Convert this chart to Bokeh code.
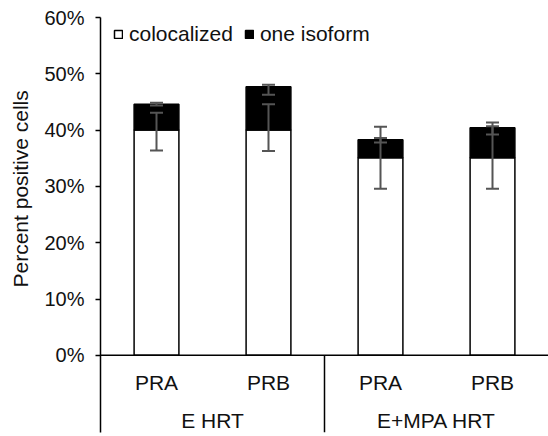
import math
from bokeh.plotting import figure
from bokeh.models import (FactorRange, Range1d, FixedTicker, Span, Whisker, TeeHead,
                          ColumnDataSource, Legend, LegendItem, Title)
from bokeh.core.properties import value
from bokeh.embed import file_html
from bokeh.resources import INLINE

# ---- data ----
groups = ["E HRT", "E HRT", "E+MPA HRT", "E+MPA HRT"]
subcats = ["PRA", "PRB", "PRA", "PRB"]
colocalized = [40.0, 40.0, 35.1, 35.1]
one_isoform = [4.6, 7.7, 3.2, 5.3]
coloc_err_lo = [36.4, 36.3, 29.6, 29.6]
coloc_err_hi = [43.1, 44.6, 40.6, 40.7]
total_err_lo = [44.35, 46.3, 37.8, 39.2]
total_err_hi = [44.85, 48.05, 38.6, 41.35]
y_ticks = [0, 10, 20, 30, 40, 50, 60]
y_tick_labels = ["0%", "10%", "20%", "30%", "40%", "50%", "60%"]
series_names = ["colocalized", "one isoform"]
y_title = "Percent positive cells"

FONT = "Liberation Sans"
Y_BOTTOM = -13.7
FRAME_W, FRAME_H = 448, 415

factors = list(zip(groups, subcats))
x_range = FactorRange(*factors, range_padding=0, group_padding=0, subgroup_padding=0,
                      factor_padding=0)

p = figure(x_range=x_range, y_range=Range1d(Y_BOTTOM, 60),
           frame_width=FRAME_W, frame_height=FRAME_H, output_backend="svg",
           toolbar_location=None, min_border_left=100, min_border_right=0,
           min_border_top=17, min_border_bottom=4)
p.outline_line_color = None
p.grid.visible = False
p.xaxis.visible = False
p.background_fill_color = "white"

src = ColumnDataSource(dict(x=factors, colocalized=colocalized, one_isoform=one_isoform))
rs = p.vbar_stack(["colocalized", "one_isoform"], x="x", width=0.4,
                  source=src, fill_color=["white", "black"], line_color="black",
                  line_width=1.5)

# error bars
esrc = ColumnDataSource(dict(x=factors, clo=coloc_err_lo, chi=coloc_err_hi,
                             tlo=total_err_lo, thi=total_err_hi))
for lo, hi in (("clo", "chi"), ("tlo", "thi")):
    w = Whisker(base="x", lower=lo, upper=hi, source=esrc,
                line_color="#555555", line_width=2, level="overlay",
                upper_head=TeeHead(size=13, line_color="#555555", line_width=2),
                lower_head=TeeHead(size=13, line_color="#555555", line_width=2))
    p.add_layout(w)

# x baseline and group separators below the axis
p.add_layout(Span(location=0, dimension="width", line_color="black", line_width=1.5))
uniq_groups = list(dict.fromkeys(groups))
per_group = len(factors) // len(uniq_groups)
sep_x = [float(per_group * i) for i in range(1, len(uniq_groups))]
p.segment(x0=sep_x, y0=[0] * len(sep_x), x1=sep_x, y1=[Y_BOTTOM] * len(sep_x),
          line_color="black", line_width=1.5)

# category labels
p.text(x=factors, y=[-4.85] * len(factors), text=subcats,
       text_font=value(FONT), text_font_size="21px", text_color="#111111",
       text_align="center", text_baseline="middle")
p.text(x=uniq_groups, y=[-11.6] * len(uniq_groups), text=uniq_groups,
       text_font=value(FONT), text_font_size="21px", text_color="#111111",
       text_align="center", text_baseline="middle")

# y axis
ax = p.yaxis[0]
ax.ticker = FixedTicker(ticks=y_ticks)
ax.major_label_overrides = {t: l for t, l in zip(y_ticks, y_tick_labels)}
ax.major_label_text_font = FONT
ax.major_label_text_font_size = "20px"
ax.major_label_text_color = "#111111"
ax.major_label_standoff = 11
ax.major_tick_out = 5
ax.major_tick_in = 0
ax.minor_tick_line_color = None
ax.axis_line_width = 1.5
ax.major_tick_line_width = 1.5
ax.axis_line_color = "black"

# y title, starting near the bottom of the 0-60 % part of the axis
t = Title(text=y_title, align="left", vertical_align="top", offset=145,
          text_font=FONT, text_font_size="21px", text_color="#111111",
          text_font_style="normal")
try:
    t.standoff = 15
except Exception:
    pass
p.add_layout(t, "left")

legend = Legend(items=[LegendItem(label=series_names[0], renderers=[rs[0]]),
                       LegendItem(label=series_names[1], renderers=[rs[1]])],
                location=(0, 373), orientation="horizontal",
                margin=0, padding=13, spacing=11, label_standoff=6,
                glyph_width=10, glyph_height=10,
                label_text_font=FONT, label_text_font_size="21px",
                label_text_color="#111111",
                background_fill_alpha=0, border_line_alpha=0)
p.add_layout(legend)

open("out.html", "w").write(file_html(p, INLINE))
